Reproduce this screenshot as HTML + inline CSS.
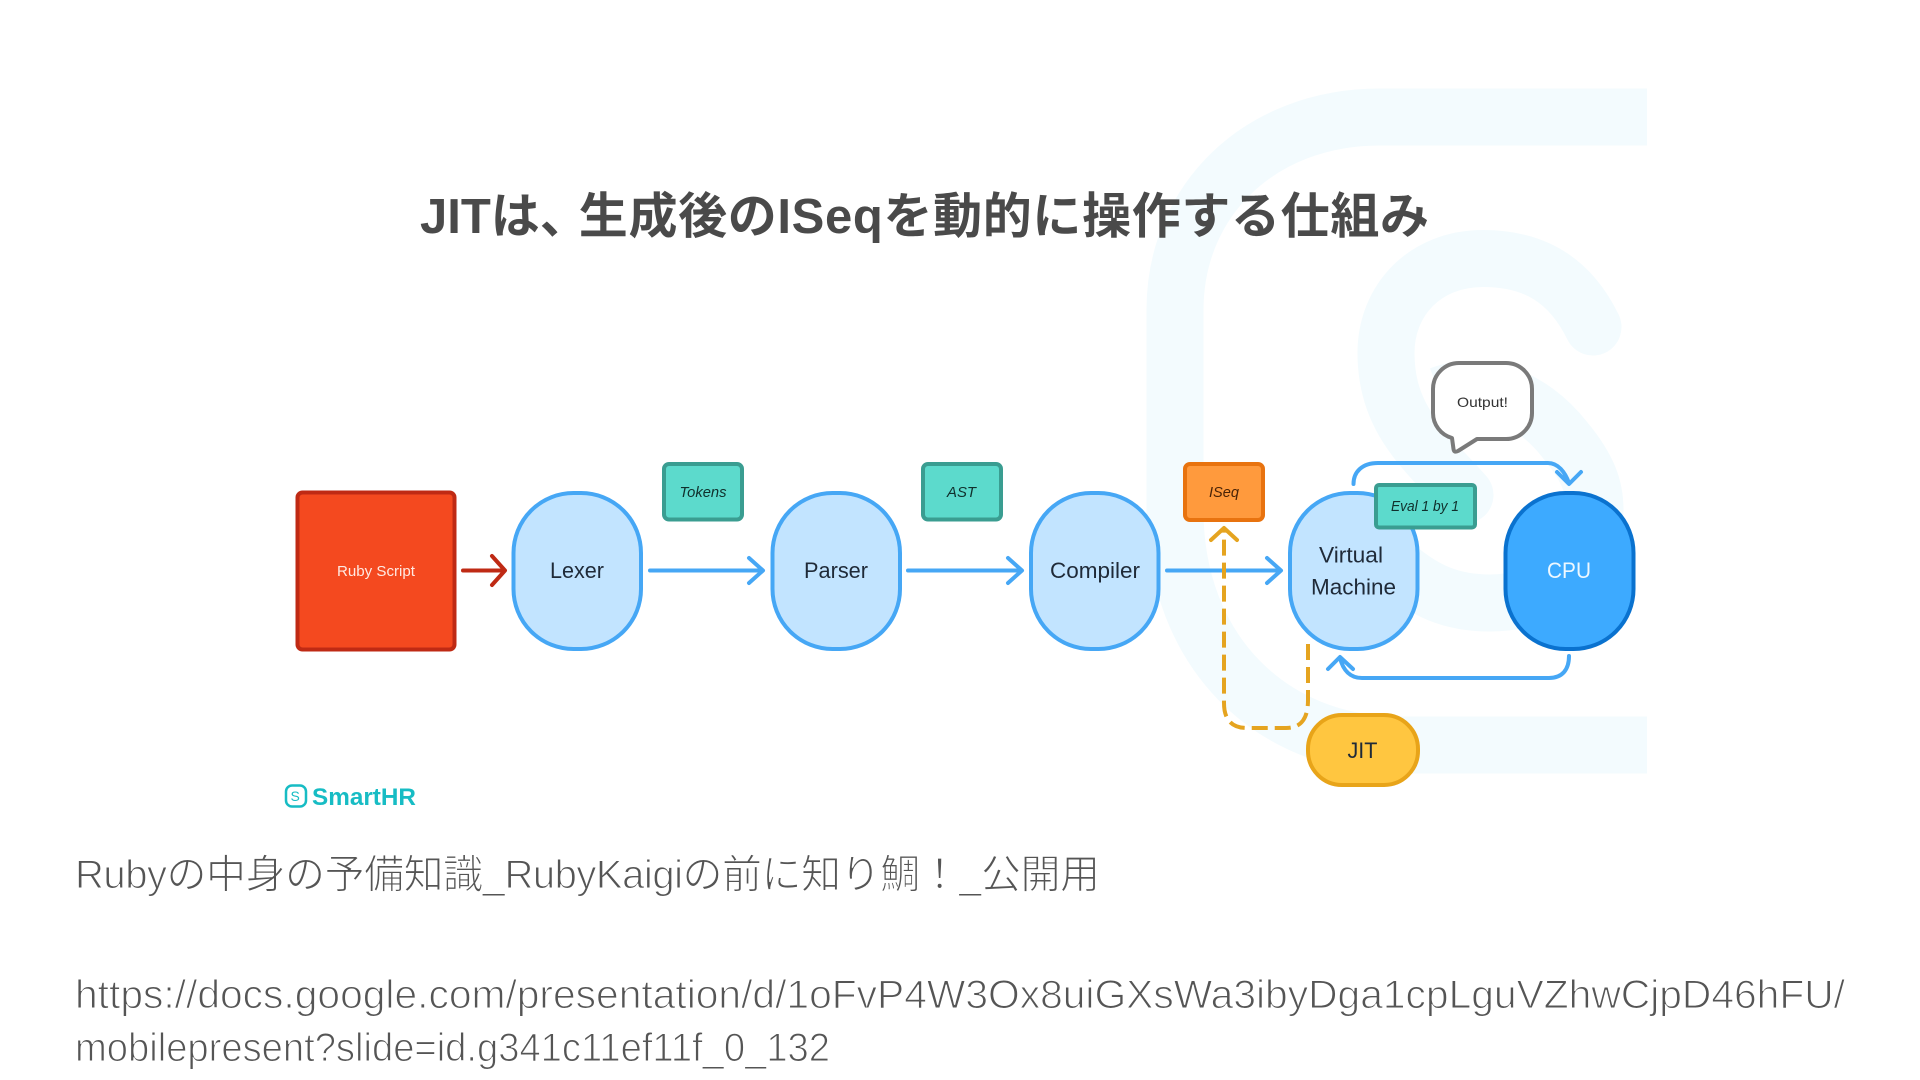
<!DOCTYPE html>
<html lang="ja"><head><meta charset="utf-8"><title>JIT</title>
<style>
html,body{margin:0;padding:0;background:#fff;width:1920px;height:1080px;overflow:hidden}
svg{display:block}
text{font-family:"Liberation Sans","Noto Sans CJK JP",sans-serif}
.n{fill:#1f2a38;font-size:22px}
.i{fill:#10302c;font-size:14.5px;font-style:italic}
.b{fill:none;stroke:#46a7f5;stroke-width:4;stroke-linecap:round;stroke-linejoin:round}
.o{fill:none;stroke:#e5a420;stroke-width:4;stroke-linejoin:round}
.t{fill:#555;font-size:40px;stroke:#fff;stroke-width:1.1px}
</style></head><body>
<svg width="1920" height="1080" viewBox="0 0 1920 1080" xmlns="http://www.w3.org/2000/svg">
<rect width="1920" height="1080" fill="#fff"/>
<!-- background logo -->
<g fill="none" stroke="#f3fbfe" stroke-width="57">
<path d="M1647 117H1380C1260 117 1175 200 1175 310V510C1175 650 1270 745 1400 745H1647"/>
<path stroke-linecap="round" d="M1593 327C1570 280 1535 258.500 1483 258.500C1425 258.500 1386 300 1386 353C1386 420 1425 450 1465 495"/>
<path d="M1440 395C1480 380 1530 395 1565 440C1590 470 1595 490 1595 510C1595 565 1550 603 1490 603C1450 603 1425 590 1400 570"/>
</g>
<!-- title -->
<text x="420" y="233" font-size="49" font-weight="700" fill="#4a4a4a">JITは、<tspan dx="-10" letter-spacing=".65">生成後のISeqを動的に操作する仕組み</tspan></text>
<!-- nodes -->
<rect x="297.500" y="492.500" width="157" height="157" rx="5" fill="#f4491f" stroke="#bf2a14" stroke-width="4"/>
<g fill="#c2e4ff" stroke="#46a7f5" stroke-width="4">
<rect x="513.500" y="493" width="127.500" height="156" rx="60"/>
<rect x="772.500" y="493" width="127.500" height="156" rx="60"/>
<rect x="1031" y="493" width="127.500" height="156" rx="60"/>
<rect x="1290" y="493" width="127.500" height="156" rx="60"/>
</g>
<rect x="1505.500" y="493" width="128" height="156" rx="60" fill="#3daaff" stroke="#0a72cf" stroke-width="4"/>
<rect x="1308" y="715" width="110" height="70" rx="34" fill="#ffc640" stroke="#e8a419" stroke-width="4"/>
<g fill="#5cdacc" stroke="#3a9d91" stroke-width="4">
<rect x="664" y="464" width="78" height="55.500" rx="5"/>
<rect x="923" y="464" width="78" height="55.500" rx="5"/>
</g>
<rect x="1185" y="464" width="78" height="56" rx="5" fill="#ff9a3d" stroke="#e8730f" stroke-width="4"/>
<!-- arrows -->
<path d="M463 570.500H503M492 556L505 570.500L492 585" fill="none" stroke="#bf2a14" stroke-width="4" stroke-linecap="round" stroke-linejoin="round"/>
<path class="b" d="M650 570.500H761M749 558L763 570.500L749 583"/>
<path class="b" d="M908 570.500H1020M1008 558L1022 570.500L1008 583"/>
<path class="b" d="M1167 570.500H1279M1267 558L1281 570.500L1267 583"/>
<path class="b" d="M1353.500 484C1353.500 472 1362 463 1378 463H1548C1558 463 1565 472 1569 483M1557 472L1569 484L1581 472"/>
<path class="b" d="M1569 656C1569 670 1562 678 1549 678H1362C1350 678 1343 670 1340 658M1328 669L1340 657L1353 669"/>
<path class="o" stroke-dasharray="16 7" d="M1308 644V700C1308 720 1300 728 1286 728H1247C1232 728 1224 720 1224 703V530"/>
<path class="o" stroke-linecap="round" d="M1211 540L1224 528L1237 540"/>
<!-- eval on top -->
<rect x="1376" y="485" width="99" height="42.500" rx="3" fill="#5cdacc" stroke="#3a9d91" stroke-width="4"/>
<!-- bubble -->
<path d="M1459 363H1506A26 26 0 0 1 1532 389V413A26 26 0 0 1 1506 439H1477L1458 451Q1454 453 1453.500 449L1452 438A26 26 0 0 1 1433 413V389A26 26 0 0 1 1459 363Z" fill="#fff" stroke="#7a7a7a" stroke-width="4" stroke-linejoin="round"/>
<!-- labels -->
<text x="337" y="576" font-size="15" fill="#ffe9e2" textLength="78" lengthAdjust="spacingAndGlyphs">Ruby Script</text>
<text class="n" x="550" y="578" textLength="54" lengthAdjust="spacingAndGlyphs">Lexer</text>
<text class="n" x="804" y="578" textLength="64" lengthAdjust="spacingAndGlyphs">Parser</text>
<text class="n" x="1050" y="578" textLength="90" lengthAdjust="spacingAndGlyphs">Compiler</text>
<text class="n" x="1319" y="562.500" textLength="64" lengthAdjust="spacingAndGlyphs">Virtual</text>
<text class="n" x="1311" y="594.500" textLength="85" lengthAdjust="spacingAndGlyphs">Machine</text>
<text class="n" x="1547" y="578" textLength="44" lengthAdjust="spacingAndGlyphs" style="fill:#eef8ff">CPU</text>
<text class="n" x="1347.500" y="758" textLength="30" lengthAdjust="spacingAndGlyphs">JIT</text>
<text class="i" x="679.500" y="497" textLength="47" lengthAdjust="spacingAndGlyphs">Tokens</text>
<text class="i" x="947" y="497" textLength="29" lengthAdjust="spacingAndGlyphs">AST</text>
<text class="i" x="1209" y="497" textLength="30" lengthAdjust="spacingAndGlyphs" style="fill:#4a2306">ISeq</text>
<text class="i" x="1391" y="511" textLength="68" lengthAdjust="spacingAndGlyphs">Eval 1 by 1</text>
<text x="1457" y="407" font-size="14" fill="#333" textLength="51" lengthAdjust="spacingAndGlyphs">Output!</text>
<!-- logo -->
<rect x="286" y="785.500" width="20" height="21" rx="6" fill="none" stroke="#17bcc4" stroke-width="2.500"/>
<text x="290.500" y="801" font-size="14" fill="#17bcc4">S</text>
<text x="312" y="805" font-size="24" font-weight="700" fill="#17bcc4" textLength="104" lengthAdjust="spacingAndGlyphs">SmartHR</text>
<!-- caption -->
<text class="t" x="75" y="888" textLength="1025" lengthAdjust="spacing">Rubyの中身の予備知識_RubyKaigiの前に知り鯛！_公開用</text>
<text class="t" x="75" y="1008" textLength="1770" lengthAdjust="spacingAndGlyphs">https://docs.google.com/presentation/d/1oFvP4W3Ox8uiGXsWa3ibyDga1cpLguVZhwCjpD46hFU/</text>
<text class="t" x="75" y="1061" textLength="755" lengthAdjust="spacingAndGlyphs">mobilepresent?slide=id.g341c11ef11f_0_132</text>
</svg>
</body></html>
